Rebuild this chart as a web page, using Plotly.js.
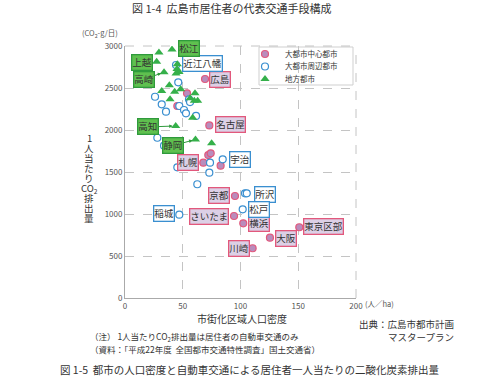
<!DOCTYPE html>
<html><head><meta charset="utf-8">
<script src="https://cdn.plot.ly/plotly-3.0.1.min.js"></script>
<style>html,body{margin:0;padding:0;background:#fff;}#chart{width:500px;height:378px;}</style>
</head><body><div id="chart"></div>
<script>
// 大都市中心都市
const centerX = [69.3, 53.7, 45.3, 73.0, 72.1, 74.2, 67.8, 82.8, 95.2, 94.4, 102.4, 150.9, 125.5, 110.5];
const centerY = [2607, 2437, 2286, 2054, 1702, 1722, 1611, 1575, 1214, 976, 889, 842, 718, 592];
const centerNames = ['広島', '', '', '名古屋', '', '', '札幌', '', '京都', 'さいたま', '横浜', '東京区部', '大阪', '川崎'];
// 大都市周辺都市
const suburbX = [44.2, 46.1, 26.0, 31.8, 35.5, 55.4, 56.3, 47.0, 51.1, 52.8, 61.5, 28.0, 33.8, 45.3, 73.6, 73.0, 84.6, 62.6, 47.0, 103.9, 105.4, 101.9];
const suburbY = [2774, 2568, 2396, 2306, 2218, 2365, 2333, 2286, 2238, 2199, 2167, 1908, 1813, 1556, 1611, 1492, 1651, 1354, 992, 1246, 1246, 1056];
const suburbNames = ['近江八幡', '', '', '', '', '', '', '', '', '', '', '', '', '', '', '', '宇治', '', '稲城', '', '所沢', '松戸'];
// 地方都市
const localX = [29.4, 40.7, 27.4, 45.3, 33.8, 45.0, 46.8, 44.2, 38.4, 31.8, 43.0, 48.2, 39.0, 60.6, 56.3, 60.0, 62.9, 58.6, 43.9, 61.0, 75.0];
const localY = [2923, 2958, 2813, 2782, 2687, 2726, 2690, 2673, 2532, 2464, 2456, 2484, 2365, 2437, 2377, 2349, 2349, 2147, 2048, 1887, 1841];
const localNames = ['', '松江', '上越', '', '高崎', '', '', '', '', '', '', '', '', '', '', '', '', '', '高知', '静岡', ''];

const seriesNames = ['大都市中心都市', '大都市周辺都市', '地方都市'];
const xTicks = [0, 50, 100, 150, 200];
const yTicks = [0, 500, 1000, 1500, 2000, 2500, 3000];
const yTitleChars = ['1', '人', '当', 'た', 'り', 'CO<sub>2</sub>', '排', '出', '量'];

const FONT = '"Noto Sans CJK JP", "Noto Sans", sans-serif';

// paper coords: plot x 125..356 (231px), y 46..298 (252px)
const px = v => (v - 125) / 231;
const py = v => (298 - v) / 252;

const traces = [
  {x: centerX, y: centerY, name: seriesNames[0], mode: 'markers', type: 'scatter', legend: 'legend',
   marker: {symbol: 'circle', size: 7, color: '#b98cbc', line: {color: '#e2587c', width: 1.2}}},
  {x: suburbX, y: suburbY, name: seriesNames[1], mode: 'markers', type: 'scatter', legend: 'legend2',
   marker: {symbol: 'circle', size: 7, color: '#ffffff', line: {color: '#3a8fd0', width: 1.2}}},
  {x: localX, y: localY, name: seriesNames[2], mode: 'markers', type: 'scatter', legend: 'legend3',
   marker: {symbol: 'triangle-up', size: 8, color: '#35b04a', line: {width: 0}}}
];

const boxStyles = [
  {bg: '#dcd0e6', border: '#e2587c'},
  {bg: '#ffffff', border: '#3a8fd0'},
  {bg: '#5fc04f', border: '#2f9a3c'}
];
// label offsets in pixels [dx, dy, arrow]
const labelOffsets = {
  '松江': [17, -1, false], '上越': [-15, 1, false], '高崎': [-20, 7, true],
  '近江八幡': [26, -1, false], '広島': [14.5, 0, false], '高知': [-28, 1, true],
  '名古屋': [21, -1, false], '静岡': [-22, 6, true], '札幌': [-15, 0, false],
  '宇治': [17, 0, false], '京都': [-16, -1, false], '所沢': [18, 1, false],
  '松戸': [16.5, 0, false], 'さいたま': [-25, 0, false], '稲城': [-15, -1, false],
  '横浜': [16, 0, false], '東京区部': [24, -1, false], '大阪': [16, 1, false],
  '川崎': [-14, 0, false]
};

const annotations = [];
[[centerX, centerY, centerNames], [suburbX, suburbY, suburbNames], [localX, localY, localNames]].forEach((s, si) => {
  s[2].forEach((nm, i) => {
    if (!nm) return;
    const off = labelOffsets[nm];
    const a = {
      x: s[0][i], y: s[1][i], xref: 'x', yref: 'y', text: nm,
      font: {family: FONT, size: 9.5, color: '#333'},
      bgcolor: boxStyles[si].bg, bordercolor: boxStyles[si].border, borderwidth: 1.3, borderpad: 0
    };
    if (off[2]) {
      Object.assign(a, {showarrow: true, ax: off[0], ay: off[1], arrowhead: 2, arrowsize: 0.7,
        arrowwidth: 1, arrowcolor: '#2f9a3c', standoff: 3});
    } else {
      Object.assign(a, {showarrow: false, xshift: off[0], yshift: -off[1]});
    }
    annotations.push(a);
  });
});

const txt = (text, x, y, size, xanchor, color) => ({
  text, x, y, xref: 'paper', yref: 'paper', showarrow: false, xanchor: xanchor || 'center', yanchor: 'middle',
  font: {family: FONT, size: size, color: color || '#333'}
});

annotations.push(txt('図 1-4  広島市居住者の代表交通手段構成', px(231), py(8), 11));
annotations.push(txt('(CO<sub>2</sub>-g/日)', px(120), py(34), 7.5, 'right', '#555'));
yTitleChars.forEach((c, i) => {
  annotations.push(txt(c, px(89), py(138 + i * 10), 9.5, 'center', '#333'));
});
annotations.push(txt('(人／ha)', px(363), py(303.5), 7.5, 'left', '#555'));
annotations.push(txt('市街化区域人口密度', px(242), py(318), 10));
annotations.push(txt('出典：広島市都市計画', px(456), py(323.5), 9.5, 'right'));
annotations.push(txt('マスタープラン', px(456), py(336.5), 9.5, 'right'));
annotations.push(txt('（注） 1人当たりCO<sub>2</sub>排出量は居住者の自動車交通のみ', px(88), py(337), 8.5, 'left'));
annotations.push(txt('（資料：「平成22年度  全国都市交通特性調査」国土交通省）', px(88), py(349), 8.5, 'left'));
annotations.push(txt('図 1-5  都市の人口密度と自動車交通による居住者一人当たりの二酸化炭素排出量', px(250), py(369), 10.5));

const legendBase = {x: px(245), xanchor: 'left', yanchor: 'middle', bgcolor: 'rgba(0,0,0,0)',
  borderwidth: 0, font: {family: FONT, size: 7.5, color: '#333'}, itemwidth: 30};

const layout = {
  width: 500, height: 378,
  margin: {l: 125, r: 144, t: 46, b: 80, pad: 0},
  paper_bgcolor: '#fff', plot_bgcolor: '#fff',
  font: {family: FONT, color: '#444'},
  showlegend: true,
  legend: Object.assign({}, legendBase, {y: py(54)}),
  legend2: Object.assign({}, legendBase, {y: py(66.5)}),
  legend3: Object.assign({}, legendBase, {y: py(79)}),
  xaxis: {range: [0, 200], tickvals: xTicks, ticktext: xTicks.map(String), showgrid: true,
    gridcolor: '#c4c4c4', griddash: 'dash', gridwidth: 1, showline: true, linecolor: '#aaa', linewidth: 1,
    zeroline: false, ticks: '', tickfont: {family: FONT, size: 8, color: '#555'}, fixedrange: true},
  yaxis: {range: [0, 3000], tickvals: yTicks, ticktext: yTicks.map(String), showgrid: true,
    gridcolor: '#c4c4c4', griddash: 'dash', gridwidth: 1, showline: true, linecolor: '#aaa', linewidth: 1,
    zeroline: false, ticks: '', tickfont: {family: FONT, size: 8, color: '#555'}, fixedrange: true},
  shapes: [
    {type: 'line', xref: 'paper', yref: 'paper', x0: 1, x1: 1, y0: 0, y1: 1, line: {color: '#c4c4c4', width: 1, dash: 'dash'}},
    {type: 'line', xref: 'paper', yref: 'paper', x0: 0, x1: 1, y0: 1, y1: 1, line: {color: '#c4c4c4', width: 1, dash: 'dash'}},
    {type: 'rect', xref: 'paper', yref: 'paper', layer: 'between', x0: px(259), x1: px(353), y0: py(85), y1: py(47),
     fillcolor: '#ffffff', line: {color: '#cfcfcf', width: 1}}
  ],
  annotations: annotations
};

Plotly.newPlot('chart', traces, layout, {displayModeBar: false, staticPlot: true});
</script>
</body></html>
